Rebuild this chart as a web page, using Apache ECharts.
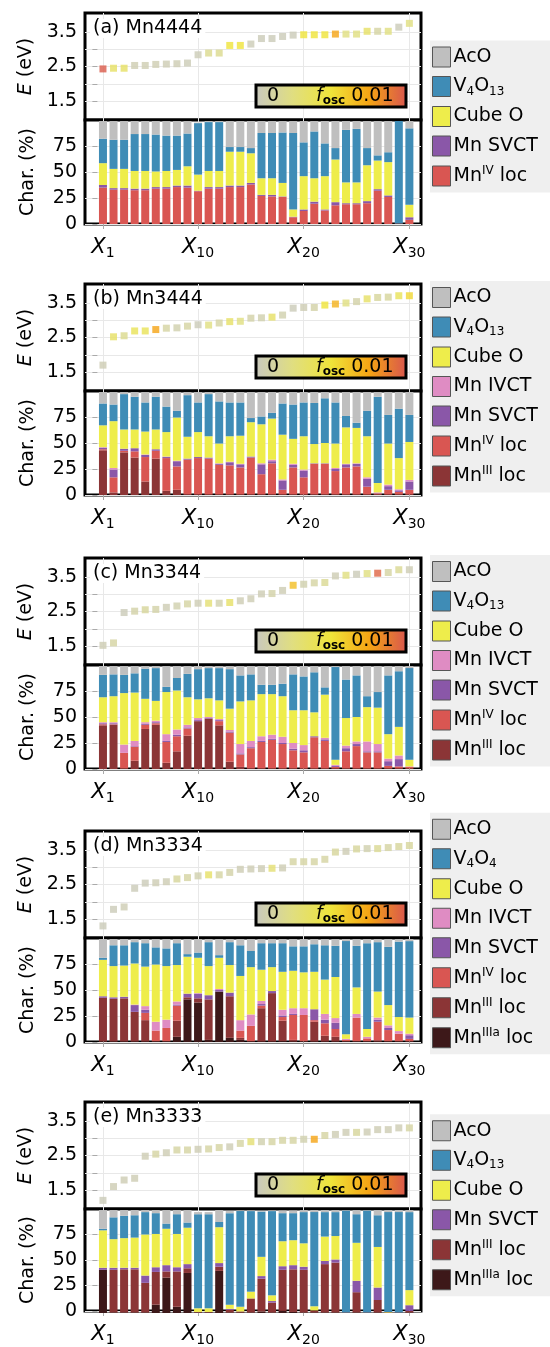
<!DOCTYPE html>
<html>
<head>
<meta charset="utf-8">
<script src="https://cdn.jsdelivr.net/npm/echarts@6/dist/echarts.min.js"></script>
<style>
html, body { margin: 0; padding: 0; background: #fff; }
#main { width: 550px; height: 1347px; }
</style>
</head>
<body>
<div id="main"></div>
<script>
// x positions of the excitations and tick labels
var tickX = [1, 10, 20, 30];
var states = [];
for (var n = 1; n <= 30; n++) states.push('X' + n);

// (a) Mn4444
var eA = [2.43,2.45,2.45,2.53,2.53,2.56,2.57,2.58,2.6,2.84, 2.89,2.89,3.11,3.11,3.15,3.31,3.31,3.37,3.41,3.42, 3.42,3.42,3.44,3.44,3.44,3.52,3.52,3.52,3.64,3.75];
var fA = [.0098,.0035,.0035,.0006,.0006,.0006,.0005,.0005,.0004,.0004, .002,.002,.005,.005,.0004,.0003,.0003,.0003,.0003,.005, .005,.005,.0075,.0025,.0025,.0035,.0012,.0025,.0003,.0025];
var a_ivLoc = [35,33,33,32.5,32.5,34,34,35.5,35,31.5, 34,34,35.5,35.5,38,27,26.5,26,6.5,12.5, 19.5,13,18,19,19,20,32,26,0.5,4];
var a_svct = [2.5,1.5,1.5,1.5,1.5,1.5,1.5,1.5,2,0.5, 1.5,1.5,1.5,1.5,1.5,1,1.5,0.5,0.5,1.5, 2,1,3,1,1,2,1.5,1.5,0,2.5];
var a_cube = [21,18.5,18.5,17,17,15,15.5,15,18.5,15.5, 15.5,15.5,32.5,32.5,28.5,16,16,13,7,32, 22.5,32,41,20,20,34.5,27.5,32,0,12];
var a_v4o13 = [23.5,28,28,35.5,35.5,35.5,34,33,31.5,49.5, 47,47,4.5,4.5,5,43.5,43.5,48.5,73.5,32.5, 45,31.5,11,50.5,51.5,16.5,5,9.5,98.5,73.5];
var a_aco = [17,18,18,12.5,12.5,13,14,14,12,0.5, 1,1,25,25,26,11.5,11.5,11,11.5,20.5, 10,21.5,26,8.5,7.5,26,33,30,0,7];

// (b) Mn3444
var eB = [1.70,2.52,2.55,2.69,2.69,2.73,2.77,2.78,2.83,2.87, 2.86,2.92,2.96,2.97,3.06,3.07,3.09,3.15,3.35,3.37, 3.37,3.44,3.47,3.5,3.54,3.62,3.66,3.67,3.71,3.71];
var fB = [.0005,.0035,.002,.004,.004,.0075,.0012,.0008,.0012,.0003, .0025,.0012,.0035,.0025,.001,.0008,.0035,.0008,.0003,.0005, .001,.005,.007,.0025,.001,.0035,.0015,.0015,.004,.0055];
var b_iiiLoc = [43,2.5,41,36,13,35,4,5,1,1, 0.5,0.5,0.5,0.5,0.5,0.5,0.5,0.5,0.5,0.5, 0.5,0.5,0.5,0.5,0.5,0.5,0.5,0.5,0.5,0.5];
var b_ivLoc = [1,14.5,1.5,6,23.5,7.5,31.5,22.5,33,34.5, 34.5,28.5,28,26,35.5,19.5,30,4.5,26,16.5, 29.5,29.5,22.5,26,27,7.5,1,4.5,2.5,4.5];
var b_svct = [1.5,7.5,2,3,2,1.5,1,5,1,1, 1,1,3,3,1,9.5,2,9,2.5,6.5, 0.5,0.5,2,3,2.5,7.5,0,3.5,1.5,8];
var b_ivct = [0.5,1.5,0,0,0.5,0,0.5,0.5,0,0, 0,0.5,0.5,0.5,0,1,1.5,1,1,1, 0,0,1,0.5,0.5,1.5,1,1.5,1,1.5];
var b_cube = [21,45,18.5,18,22,19,23.5,41.5,21,24, 20.5,19,24.5,27,33,37.5,39.5,43,24,32, 18.5,19.5,23.5,35,34,39.5,9,39.5,30,36.5];
var b_v4o13 = [21,16,34,31.5,28,31.5,24.5,6.5,40,28.5, 40.5,40.5,32.5,32,4,7.5,5.5,30,33,32.5, 39.5,43,39.5,11,5,24.5,83,27.5,47.5,26];
var b_aco = [11,12,2,4.5,10,4.5,14,18,3,10, 2,9,10,10,25,23.5,20,11,12,10, 10.5,6,10,23,29.5,18,4.5,22,16,22];

// (c) Mn3344
var eC = [1.52,1.59,2.47,2.51,2.55,2.56,2.62,2.66,2.72,2.74, 2.74,2.74,2.76,2.81,2.87,3.01,3.02,3.11,3.26,3.29, 3.33,3.34,3.53,3.55,3.58,3.6,3.61,3.63,3.71,3.71];
var fC = [.0005,.0012,.0003,.001,.0015,.001,.0005,.0008,.0012,.0005, .003,.0008,.0035,.0005,.0005,.0005,.001,.0005,.0065,.0008, .0012,.0018,.0005,.0025,.0003,.0025,.0095,.0012,.0018,.0005];
var c_iiiLoc = [42,42.5,0.5,8,38.5,42.5,6,17,32,46, 48.5,42,7,2,1,0.5,0.5,0.5,0.5,0.5, 0.5,0.5,0.5,0.5,0.5,0.5,0.5,0.5,0.5,0.5];
var c_ivLoc = [1,0.5,15,13.5,4,1.5,20,14.5,7,0, 0,4,28,12,19,25.5,27.5,23.5,17.5,15.5, 30,26.5,1.5,16.5,21.5,15.5,15.5,2.5,2,1.5];
var c_svct = [1,1,0,0.5,1,1,1,1.5,1,1, 0.5,1,1,1,1,1,1,1,1.5,2, 1,1.5,1,3,2,1,1,4.5,7,0];
var c_ivct = [1,1,8,5,1.5,1.5,6.5,5,2.5,2, 1,1,1.5,9,6,4.5,4,6,5.5,5, 0,1.5,1,2.5,2.5,9.5,7,2.5,3.5,0.5];
var c_cube = [24,25,49.5,46.5,22.5,19,40.5,37.5,26.5,18, 18,18,20.5,41,39,40.5,39,39,31.5,33.5, 23,41.5,5,26.5,23.5,33,35,23.5,27.5,6.5];
var c_v4o13 = [21.5,21,17.5,18.5,29,31.5,5,12,22.5,29, 29,31,38,25,25,9,9,12,34.5,32.5, 38.5,7,89,37,40,10.5,15,56.5,53.5,88];
var c_aco = [8.5,8,8.5,7,2.5,2,20,11.5,7.5,3, 2,2,3,9,8,18,18,17,8,10, 6,20.5,1,13,9,29,25,9,5,2];

// (d) Mn3334
var eD = [1.3,1.78,1.85,2.39,2.54,2.55,2.58,2.66,2.7,2.75, 2.78,2.78,2.85,2.94,2.95,2.96,2.97,2.98,3.16,3.16, 3.16,3.23,3.44,3.46,3.53,3.54,3.54,3.57,3.6,3.63];
var fD = [.0003,.0003,.0005,.0003,.0003,.0005,.0005,.0015,.0012,.0008, .0035,.0012,.001,.0005,.0005,.0005,.003,.0005,.0012,.0012, .0012,.0012,.0015,.0005,.0015,.0008,.0018,.0012,.0015,.0015];
var d_iiiaLoc = [0.5,0.5,0.5,0.5,0.5,0.5,0.5,5,41,38, 2,48.5,4,2,0.5,0.5,0.5,1,0.5,0.5, 0.5,0.5,0.5,0.5,0.5,0.5,0.5,0.5,0.5,0.5];
var d_iiiLoc = [42,41,41.5,28.5,20.5,0.5,0.5,15.5,2,4, 39,0,40,2,0.5,32,46.5,19.5,1.5,0.5, 19,5.5,4.5,0.5,0.5,0.5,1,0.5,0.5,0.5];
var d_ivLoc = [0,0,0,0,7,10,12.5,14.5,0,0, 0,0,0,7,14.5,2.5,0,3.5,24,25, 1.5,12,7.5,1,22.5,2.5,18,10.5,7,2];
var d_svct = [1.5,1.5,1.5,6.5,3,0,0,1,3.5,4.5, 4,1.5,3.5,0,0,1.5,2,1.5,1,0, 10.5,3.5,6,0,0,0,2,2,0,3.5];
var d_ivct = [0,0,0,0.5,3.5,8.5,8,3,0,0.5, 0,1,0,10,11,3,0,5.5,5.5,6.5, 0,5.5,4.5,1,3.5,1.5,2,2.5,2.5,1.5];
var d_cube = [35,30,30,39.5,38,55,51.5,35,35.5,34, 28,30,26.5,42.5,45.5,30,23,36.5,36,34.5, 36,33,39.5,4.5,25.5,7.5,25,19.5,13.5,15.5];
var d_v4o4 = [2,20,19.5,20.5,22.5,16.5,17,21,2.5,5, 23,2.5,22,29.5,15.5,25.5,23,27.5,23.5,25, 26.5,33,30,89.5,40,82.5,47.5,56,72.5,73.5];
var d_aco = [18,6,6,3,4,8,9,4,14.5,13, 3,15.5,3,6,11.5,4,4,4,7,7, 5,6,6.5,2,6.5,4,3,7.5,2.5,2];

// (e) Mn3333
var eE = [1.2,1.6,1.79,1.84,2.48,2.54,2.58,2.66,2.66,2.68, 2.69,2.73,2.75,2.85,2.9,2.9,2.9,2.94,2.94,2.97, 2.97,3.08,3.11,3.17,3.17,3.18,3.25,3.25,3.3,3.3];
var fE = [.0003,.0005,.0005,.0005,.0005,.0012,.0005,.0012,.0012,.0005, .0012,.0012,.0005,.0012,.003,.0008,.0012,.0012,.0012,.0008, .0075,.0012,.0005,.0005,.0015,.0005,.0005,.0005,.0005,.0012];
var e_iiiaLoc = [41.5,0.5,0.5,0.5,0.5,8,34,6,38.5,0.5, 0.5,40.5,0.5,0.5,0.5,1.5,0.5,2,1,0.5, 0.5,0.5,0.5,0,0.5,0,0.5,0,0,0.5];
var e_iiiLoc = [0,41,41.5,41.5,28.5,31.5,6,34,4.5,0.5, 0.5,4,2.5,1,13.5,31.5,9.5,39.5,41,41, 2,46.5,48,0.5,19.5,0.5,12,0.5,0.5,1.5];
var e_svct = [2,2,1.5,1.5,7,4.5,6,4,4,0, 0,3.5,1,0,0,2.5,1.5,3.5,4,3, 0,3,3,0,11,0,12,0,0,5.5];
var e_cube = [36,27.5,28.5,29,39.5,32,35,32,35,3.5, 3.5,34.5,4,4.5,6.5,18.5,5.5,24,24,22.5, 4,23.5,22.5,0,36.5,0,39,0.5,0,14.5];
var e_v4o13 = [1.5,21,21.5,21.5,21.5,20,5,19,5,90.5, 90.5,5,88,92,77.5,43.5,81,27,26,30, 90.5,23.5,23,98,27.5,98,30.5,96,96.5,75];
var e_aco = [18,7,5.5,5,2,3,13,4,12,2, 2,11.5,2,0.5,0.5,0.5,0.5,2.5,2.5,2, 2,2,2,0.5,4,0.5,5,2,2,2];

var colors = {
    'AcO': '#bfbfbf',
    'V4O13': '#3f8cb6',
    'V4O4': '#3f8cb6',
    'Cube O': '#eeed4b',
    'Mn IVCT': '#df8cc3',
    'Mn SVCT': '#8a57a8',
    'MnIV loc': '#d95652',
    'MnIII loc': '#8b3536',
    'MnIIIa loc': '#3d1819'
};
var labels = {
    'AcO': '{t|AcO}',
    'V4O13': '{t|V}{sb|4}{t|O}{sb|13}',
    'V4O4': '{t|V}{sb|4}{t|O}{sb|4}',
    'Cube O': '{t|Cube O}',
    'Mn IVCT': '{t|Mn IVCT}',
    'Mn SVCT': '{t|Mn SVCT}',
    'MnIV loc': '{t|Mn}{sp|IV}{t| loc}',
    'MnIII loc': '{t|Mn}{sp|III}{t| loc}',
    'MnIIIa loc': '{t|Mn}{sp|IIIa}{t| loc}'
};
var foscColors = ['#c8c8c0', '#e0de80', '#efe43a', '#f5a414', '#d8544f'];

var panels = [
    {label: '(a) Mn4444', e: eA, f: fA, bars: [['MnIV loc', a_ivLoc], ['Mn SVCT', a_svct], ['Cube O', a_cube], ['V4O13', a_v4o13], ['AcO', a_aco]]},
    {label: '(b) Mn3444', e: eB, f: fB, bars: [['MnIII loc', b_iiiLoc], ['MnIV loc', b_ivLoc], ['Mn SVCT', b_svct], ['Mn IVCT', b_ivct], ['Cube O', b_cube], ['V4O13', b_v4o13], ['AcO', b_aco]]},
    {label: '(c) Mn3344', e: eC, f: fC, bars: [['MnIII loc', c_iiiLoc], ['MnIV loc', c_ivLoc], ['Mn SVCT', c_svct], ['Mn IVCT', c_ivct], ['Cube O', c_cube], ['V4O13', c_v4o13], ['AcO', c_aco]]},
    {label: '(d) Mn3334', e: eD, f: fD, bars: [['MnIIIa loc', d_iiiaLoc], ['MnIII loc', d_iiiLoc], ['MnIV loc', d_ivLoc], ['Mn SVCT', d_svct], ['Mn IVCT', d_ivct], ['Cube O', d_cube], ['V4O4', d_v4o4], ['AcO', d_aco]]},
    {label: '(e) Mn3333', e: eE, f: fE, bars: [['MnIIIa loc', e_iiiaLoc], ['MnIII loc', e_iiiLoc], ['Mn SVCT', e_svct], ['Cube O', e_cube], ['V4O13', e_v4o13], ['AcO', e_aco]]}
];

var FONT = 'DejaVu Sans';
var panelTop = [13, 284, 558, 831, 1102];
var GL = 85, GW = 336, HTOP = 107, HBAR = 104;
var XMIN = -0.7, XMAX = 31.1;
var UX = GW / (XMAX - XMIN);

var grids = [], xAxes = [], yAxes = [], series = [], legends = [], visualMaps = [], titles = [], graphics = [];

panels.forEach(function (p, k) {
    var top = panelTop[k];
    var g = grids.length;
    // energy plot, character frame, character bars
    grids.push({left: GL, top: top, width: GW, height: HTOP, show: true, borderColor: '#000', borderWidth: 3, backgroundColor: '#fff'});
    grids.push({left: GL, top: top + HTOP, width: GW, height: HBAR, show: true, borderColor: '#000', borderWidth: 3, backgroundColor: '#fff'});
    grids.push({left: GL + (1.5 - 1 - XMIN) * UX, top: top + HTOP, width: 30 * UX, height: HBAR});

    xAxes.push({
        gridIndex: g, type: 'value', min: XMIN, max: XMAX,
        axisLine: {show: false},
        axisTick: {show: false, customValues: tickX},
        axisLabel: {show: false, customValues: tickX},
        splitLine: {show: true, lineStyle: {color: '#e8e8e8', width: 1}}
    });
    yAxes.push({
        gridIndex: g, type: 'value', min: 0.95, max: 4.05,
        axisLine: {show: false},
        axisTick: {show: true, inside: true, length: 5, customValues: [1.5, 2, 2.5, 3, 3.5], lineStyle: {color: '#aaa'}},
        axisLabel: {customValues: [1.5, 2.5, 3.5], fontSize: 19, color: '#000', margin: 8, fontFamily: FONT},
        splitLine: {show: true, lineStyle: {color: '#e8e8e8', width: 1}},
        name: '{i|E} (eV)', nameLocation: 'middle', nameRotate: 90, nameGap: 47,
        nameTextStyle: {fontSize: 19, color: '#000', fontFamily: FONT, rich: {i: {fontSize: 19, fontStyle: 'italic', fontFamily: FONT}}}
    });

    xAxes.push({
        gridIndex: g + 1, type: 'value', min: XMIN, max: XMAX,
        axisLine: {show: false},
        axisTick: {show: true, customValues: tickX, length: 5, lineStyle: {color: '#aaa'}},
        axisLabel: {
            customValues: tickX, margin: 12,
            formatter: function (v) { return '{x|X}{s|' + v + '}'; },
            rich: {
                x: {fontSize: 21, fontStyle: 'italic', fontFamily: FONT, color: '#000', lineHeight: 24},
                s: {fontSize: 14, fontFamily: FONT, color: '#000', verticalAlign: 'bottom', lineHeight: 14}
            }
        },
        splitLine: {show: true, lineStyle: {color: '#e8e8e8', width: 1}}
    });
    yAxes.push({
        gridIndex: g + 1, type: 'value', min: 0, max: 100,
        axisLine: {show: false},
        axisTick: {show: true, inside: true, length: 5, customValues: [0, 25, 50, 75], lineStyle: {color: '#aaa'}},
        axisLabel: {customValues: [0, 25, 50, 75], fontSize: 19, color: '#000', margin: 8, fontFamily: FONT},
        splitLine: {show: true, lineStyle: {color: '#e8e8e8', width: 1}},
        name: 'Char. (%)', nameLocation: 'middle', nameRotate: 90, nameGap: 47,
        nameTextStyle: {fontSize: 19, color: '#000', fontFamily: FONT}
    });

    xAxes.push({
        gridIndex: g + 2, type: 'category', data: states, boundaryGap: true,
        axisLine: {show: false}, axisTick: {show: false}, axisLabel: {show: false}, splitLine: {show: false}
    });
    yAxes.push({
        gridIndex: g + 2, type: 'value', min: 0, max: 100,
        axisLine: {show: false}, axisTick: {show: false}, axisLabel: {show: false}, splitLine: {show: false}
    });

    var sIdx = series.length;
    series.push({
        type: 'scatter', xAxisIndex: g, yAxisIndex: g,
        symbol: 'rect', symbolSize: 7, z: 5,
        data: p.e.map(function (e, i) { return [i + 1, e, p.f[i]]; })
    });
    visualMaps.push({
        type: 'continuous', show: false, seriesIndex: sIdx, dimension: 2,
        min: 0, max: 0.01, inRange: {color: foscColors}
    });

    p.bars.forEach(function (b) {
        series.push({
            type: 'bar', name: b[0], xAxisIndex: g + 2, yAxisIndex: g + 2,
            stack: 'p' + k, barWidth: 8,
            itemStyle: {color: colors[b[0]]},
            data: b[1]
        });
    });

    // legend, vertically centred on the panel
    var names = p.bars.map(function (b) { return b[0]; }).reverse();
    var itemH = 22, gap = 8.5;
    var lh = names.length * itemH + (names.length - 1) * gap + 12;
    legends.push({
        orient: 'vertical', left: 430, top: top + (HTOP + HBAR) / 2 - lh / 2,
        backgroundColor: '#efefef', padding: [6, 40, 6, 2],
        itemWidth: 18, itemHeight: 20, itemGap: gap, icon: 'rect',
        itemStyle: {borderColor: '#555', borderWidth: 1},
        data: names,
        formatter: function (name) { return labels[name]; },
        textStyle: {
            color: '#000', fontFamily: FONT, padding: [0, 0, 0, -2],
            rich: {
                t: {fontSize: 19, fontFamily: FONT, color: '#000', lineHeight: itemH},
                sp: {fontSize: 12, fontFamily: FONT, color: '#000', verticalAlign: 'top', lineHeight: 12},
                sb: {fontSize: 12, fontFamily: FONT, color: '#000', verticalAlign: 'bottom', lineHeight: 12}
            }
        }
    });

    titles.push({
        text: p.label, left: 90, top: top + 6, padding: [0, 3],
        backgroundColor: '#fff',
        textStyle: {fontSize: 19, fontWeight: 'normal', color: '#000', fontFamily: FONT}
    });

    // f_osc colour bar
    var cbTop = top + 72;
    graphics.push({
        type: 'rect', z: 50,
        shape: {x: 256, y: cbTop, width: 150, height: 22},
        style: {
            fill: new echarts.graphic.LinearGradient(0, 0, 1, 0, foscColors.map(function (c, i) {
                return {offset: i / (foscColors.length - 1), color: c};
            })),
            stroke: '#000', lineWidth: 3
        }
    });
    graphics.push({
        type: 'text', z: 51, x: 267, y: cbTop + 11,
        style: {text: '0', font: '19px "DejaVu Sans"', fill: '#000', verticalAlign: 'middle'}
    });
    graphics.push({
        type: 'text', z: 51, x: 316, y: cbTop + 11,
        style: {
            text: '{f|f}{s|osc}{n| 0.01}', verticalAlign: 'middle',
            rich: {
                f: {fontSize: 19, fontStyle: 'italic', fontFamily: FONT, fill: '#000', lineHeight: 22},
                s: {fontSize: 12, fontWeight: 'bold', fontFamily: FONT, fill: '#000', verticalAlign: 'bottom', lineHeight: 12},
                n: {fontSize: 19, fontFamily: FONT, fill: '#000', lineHeight: 22}
            }
        }
    });
});

var chart = echarts.init(document.getElementById('main'));
chart.setOption({
    animation: false,
    backgroundColor: '#fff',
    textStyle: {fontFamily: FONT},
    title: titles,
    grid: grids,
    xAxis: xAxes,
    yAxis: yAxes,
    visualMap: visualMaps,
    legend: legends,
    graphic: graphics,
    series: series
});
</script>
</body>
</html>
